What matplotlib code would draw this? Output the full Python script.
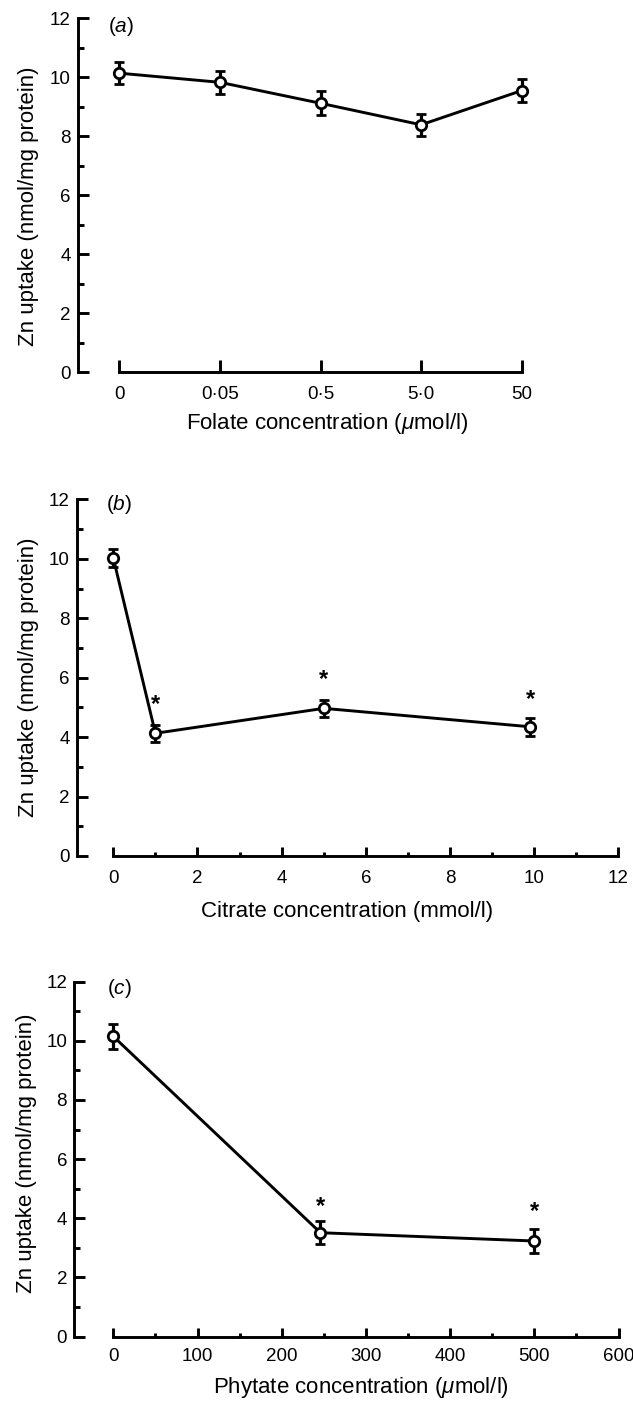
import matplotlib
matplotlib.use('Agg')
import matplotlib.pyplot as plt
from matplotlib.ticker import MultipleLocator

plt.rcParams['font.family'] = ['Liberation Sans', 'DejaVu Sans']
plt.rcParams['mathtext.fontset'] = 'custom'
plt.rcParams['mathtext.rm'] = 'Liberation Sans'
plt.rcParams['mathtext.it'] = 'Liberation Sans:italic'

# ---------------- data ----------------
folate_labels = ['0', '0·05', '0·5', '5·0', '50']
folate_pos = [0, 1, 2, 3, 4]
folate_zn = [10.14, 9.83, 9.12, 8.39, 9.55]
folate_err = [0.37, 0.40, 0.40, 0.37, 0.40]

citrate_x = [0, 1, 5, 9.9]
citrate_zn = [10.03, 4.13, 4.97, 4.35]
citrate_err = [0.30, 0.28, 0.29, 0.30]
citrate_star_x = [1, 5, 9.9]
citrate_star_y = [5.33, 6.18, 5.49]

phytate_x = [0, 246, 500]
phytate_zn = [10.15, 3.51, 3.23]
phytate_err = [0.41, 0.38, 0.40]
phytate_star_x = [246, 500]
phytate_star_y = [4.63, 4.47]

yticks = [0, 2, 4, 6, 8, 10, 12]
citrate_ticks = [0, 2, 4, 6, 8, 10, 12]
phytate_ticks = [0, 100, 200, 300, 400, 500, 600]

ylabel = 'Zn uptake (nmol/mg protein)'

W, H = 633, 1403
fig = plt.figure(figsize=(W / 100, H / 100), dpi=100)

LW = 2.1
TICK_FS = 13.5
LABEL_FS = 16


def make_ax(left, top, bottom, x0px, scale, right=632):
    ax = fig.add_axes([left / W, 1 - bottom / H, (right - left) / W, (bottom - top) / H])
    xmin = -(x0px - left) / scale
    ax.set_xlim(xmin, xmin + (right - left) / scale)
    ax.set_ylim(0, 12)
    ax.patch.set_alpha(0)
    for s in ('top', 'right'):
        ax.spines[s].set_visible(False)
    for s in ('left', 'bottom'):
        ax.spines[s].set_linewidth(LW)
        ax.spines[s].set_capstyle('projecting')
    ax.spines['left'].set_bounds(0, 12)
    ax.set_yticks(yticks)
    ax.yaxis.set_minor_locator(MultipleLocator(1))
    ax.tick_params(axis='y', which='major', direction='in', length=7.9, width=LW,
                   pad=5, labelsize=TICK_FS)
    ax.tick_params(axis='y', which='minor', direction='in', length=4, width=LW)
    return ax


def draw(ax, x, y, e):
    ax.errorbar(x, y, yerr=e, fmt='-o', color='k', lw=LW, ms=7.5,
                mfc='white', mec='k', mew=2.0, capsize=3.4, capthick=2.3,
                elinewidth=2.3, zorder=3, clip_on=False)


def stars(ax, xs, ys):
    fs = 17
    for x, y in zip(xs, ys):
        ax.annotate('*', (x, y), xytext=(0, -0.575 * fs), textcoords='offset points',
                    ha='center', va='baseline', fontsize=fs, fontweight='bold')


def ptext(x, y, s, **kw):
    fig.text(x / W, 1 - y / H, s, **kw)


# ---------------- panel (a) ----------------
axa = make_ax(77.7, 18.3, 372.3, 119.3, 100.6)
axa.spines['bottom'].set_bounds(0, 4)
axa.set_xticks(folate_pos, folate_labels)
axa.tick_params(axis='x', which='major', direction='in', length=8.6, width=LW,
                pad=10.2, labelsize=TICK_FS)
draw(axa, folate_pos, folate_zn, folate_err)
ptext(327, 423, r'Folate concentration ($\mathit{μ}$mol/l)', fontsize=LABEL_FS,
      ha='center', va='center')
ptext(29, 206, ylabel, fontsize=LABEL_FS, rotation=90, ha='center', va='center')
ptext(108, 26, r'($\mathit{a}$)', fontsize=15, ha='left', va='center')

# ---------------- panel (b) ----------------
axb = make_ax(76.7, 499.5, 856, 113.3, 42.1)
axb.spines['bottom'].set_bounds(0, 12)
axb.set_xticks(citrate_ticks)
axb.xaxis.set_minor_locator(MultipleLocator(1))
axb.tick_params(axis='x', which='major', direction='in', length=6.6, width=LW,
                pad=10.0, labelsize=TICK_FS)
axb.tick_params(axis='x', which='minor', direction='in', length=3.2, width=LW)
draw(axb, citrate_x, citrate_zn, citrate_err)
stars(axb, citrate_star_x, citrate_star_y)
ptext(347, 912, 'Citrate concentration (mmol/l)', fontsize=LABEL_FS,
      ha='center', va='center')
ptext(29, 677, ylabel, fontsize=LABEL_FS, rotation=90, ha='center', va='center')
ptext(106, 505, r'($\mathit{b}$)', fontsize=15, ha='left', va='center')

# ---------------- panel (c) ----------------
axc = make_ax(74, 981.7, 1336.5, 113.3, 0.842)
axc.spines['bottom'].set_bounds(0, 600)
axc.set_xticks(phytate_ticks)
axc.xaxis.set_minor_locator(MultipleLocator(50))
axc.tick_params(axis='x', which='major', direction='in', length=6.3, width=LW,
                pad=8.6, labelsize=TICK_FS)
axc.tick_params(axis='x', which='minor', direction='in', length=3.0, width=LW)
draw(axc, phytate_x, phytate_zn, phytate_err)
stars(axc, phytate_star_x, phytate_star_y)
ptext(361, 1387, r'Phytate concentration ($\mathit{μ}$mol/l)', fontsize=LABEL_FS,
      ha='center', va='center')
ptext(27, 1153, ylabel, fontsize=LABEL_FS, rotation=90, ha='center', va='center')
ptext(107, 988, r'($\mathit{c}$)', fontsize=15, ha='left', va='center')

fig.savefig('out.png', dpi=100)
